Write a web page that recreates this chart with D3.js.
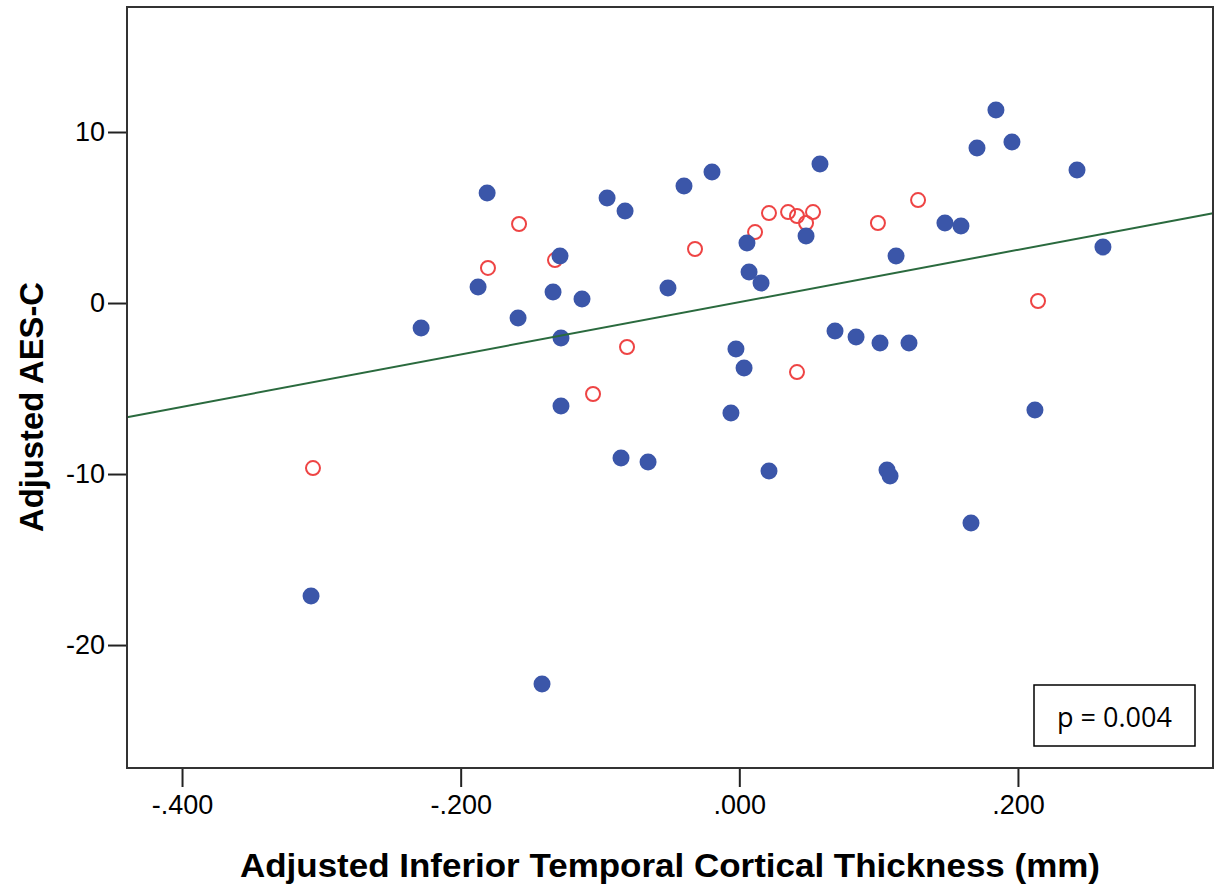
<!DOCTYPE html>
<html lang="en">
<head>
<meta charset="utf-8">
<title>AES-C vs Inferior Temporal Cortical Thickness</title>
<script src="https://d3js.org/d3.v7.min.js"></script>
<style>
  body { margin: 0; background: #fff; }
  svg text { font-family: "Liberation Sans", Arial, sans-serif; fill: #000; }
</style>
</head>
<body>
<div id="chart"></div>
<script>
// filled blue points
const blueX = [-0.181, -0.1875, -0.2284, -0.1588, -0.1337, -0.1287, -0.128, -0.1129, -0.128,
  -0.0949, -0.082, -0.0512, -0.0397, -0.0196, 0.0579, 0.0055, 0.007, 0.0156, 0.0479,
  -0.0024, 0.0034, -0.006, 0.0687, 0.0838, 0.101, 0.1218, 0.1125, 0.1476, 0.1591,
  0.1706, 0.1842, 0.1957, 0.2424, 0.261, 0.2122, -0.0849, -0.0655, 0.0213, 0.106,
  0.1082, 0.1663, -0.3074, -0.1416];
const blueY = [6.43, 0.94, -1.46, -0.88, 0.64, 2.75, -2.05, 0.23, -6.02,
  6.14, 5.38, 0.88, 6.84, 7.66, 8.13, 3.51, 1.81, 1.17, 3.92,
  -2.69, -3.80, -6.43, -1.64, -1.99, -2.34, -2.34, 2.75, 4.68, 4.50,
  9.06, 11.29, 9.42, 7.78, 3.27, -6.26, -9.06, -9.30, -9.82, -9.77,
  -10.12, -12.87, -17.13, -22.28];

// open red points
const redX = [-0.1581, -0.1804, -0.1323, -0.0318, -0.0806, -0.105, -0.306, 0.2144, 0.0995,
  0.1283, 0.0213, 0.035, 0.0414, 0.0529, 0.0479, 0.0113, 0.0414];
const redY = [4.62, 2.05, 2.51, 3.16, -2.57, -5.32, -9.65, 0.12, 4.68,
  6.02, 5.26, 5.32, 5.09, 5.32, 4.68, 4.15, -4.04];

const xTicks = [-0.4, -0.2, 0.0, 0.2];
const yTicks = [10, 0, -10, -20];

// fit line: y = intercept + slope * x
const fitIntercept = 0.05;
const fitSlope = 15.3;

const pLabel = "p = 0.004";
const xTitle = "Adjusted Inferior Temporal Cortical Thickness (mm)";
const yTitle = "Adjusted AES-C";

const W = 1215, H = 890;
const margin = {top: 7, right: 2, bottom: 122, left: 127};

const svg = d3.select("#chart").append("svg")
  .attr("width", W).attr("height", H);

const x = d3.scaleLinear()
  .domain([-0.4395, 0.340])
  .range([margin.left, W - margin.right]);
const y = d3.scaleLinear()
  .domain([-27.19, 17.31])
  .range([H - margin.bottom, margin.top]);

// SPSS style: "-.400", ".000", plain hyphen minus
const fmtX = d => d3.format(".3f")(d).replace("0.", ".").replace("\u2212", "-");
const fmtY = d => String(d);

// y axis
const yAxis = svg.append("g")
  .attr("transform", `translate(${margin.left},0)`)
  .call(d3.axisLeft(y).tickValues(yTicks).tickSize(19).tickPadding(3).tickFormat(fmtY));
yAxis.select(".domain").remove();
yAxis.selectAll("line").attr("stroke", "#222").attr("stroke-width", 2);
yAxis.selectAll("text").style("font-size", "27px").attr("fill", "#111");

// x axis
const xAxis = svg.append("g")
  .attr("transform", `translate(0,${H - margin.bottom})`)
  .call(d3.axisBottom(x).tickValues(xTicks).tickSize(19).tickPadding(8).tickFormat(fmtX));
xAxis.select(".domain").remove();
xAxis.selectAll("line").attr("stroke", "#222").attr("stroke-width", 2);
xAxis.selectAll("text").style("font-size", "27px").attr("fill", "#111");

// red open circles (drawn underneath)
svg.append("g").selectAll("circle")
  .data(redX.map((d, i) => [d, redY[i]]))
  .join("circle")
    .attr("cx", d => x(d[0]))
    .attr("cy", d => y(d[1]))
    .attr("r", 7)
    .attr("fill", "none")
    .attr("stroke", "#ee4444")
    .attr("stroke-width", 2);

// blue filled circles
svg.append("g").selectAll("circle")
  .data(blueX.map((d, i) => [d, blueY[i]]))
  .join("circle")
    .attr("cx", d => x(d[0]))
    .attr("cy", d => y(d[1]))
    .attr("r", 8.5)
    .attr("fill", "#3b56a9");

// regression line across the full x range
const xd = x.domain();
svg.append("path")
  .datum(xd.map(v => [v, fitIntercept + fitSlope * v]))
  .attr("d", d3.line().x(d => x(d[0])).y(d => y(d[1])))
  .attr("stroke", "#2a6a3e")
  .attr("stroke-width", 2)
  .attr("fill", "none");

// frame
svg.append("rect")
  .attr("x", x.range()[0]).attr("y", y.range()[1])
  .attr("width", x.range()[1] - x.range()[0])
  .attr("height", y.range()[0] - y.range()[1])
  .attr("fill", "none")
  .attr("stroke", "#333")
  .attr("stroke-width", 2);

// p value box
svg.append("rect")
  .attr("x", 1034).attr("y", 685)
  .attr("width", 161).attr("height", 61)
  .attr("fill", "#fff")
  .attr("stroke", "#000")
  .attr("stroke-width", 1.5);
svg.append("text")
  .attr("x", 1114.5).attr("y", 727)
  .attr("text-anchor", "middle")
  .style("font-family", "'Open Sans', 'Noto Sans', sans-serif")
  .style("font-size", "27px")
  .text(pLabel);

// axis titles
svg.append("text")
  .attr("x", (x.range()[0] + x.range()[1]) / 2)
  .attr("y", 877)
  .attr("text-anchor", "middle")
  .attr("textLength", 860)
  .attr("lengthAdjust", "spacingAndGlyphs")
  .style("font-size", "34px")
  .style("font-weight", "bold")
  .text(xTitle);

svg.append("text")
  .attr("transform", "translate(43,407) rotate(-90)")
  .attr("text-anchor", "middle")
  .attr("textLength", 250)
  .attr("lengthAdjust", "spacingAndGlyphs")
  .style("font-size", "34px")
  .style("font-weight", "bold")
  .text(yTitle);
</script>
</body>
</html>
